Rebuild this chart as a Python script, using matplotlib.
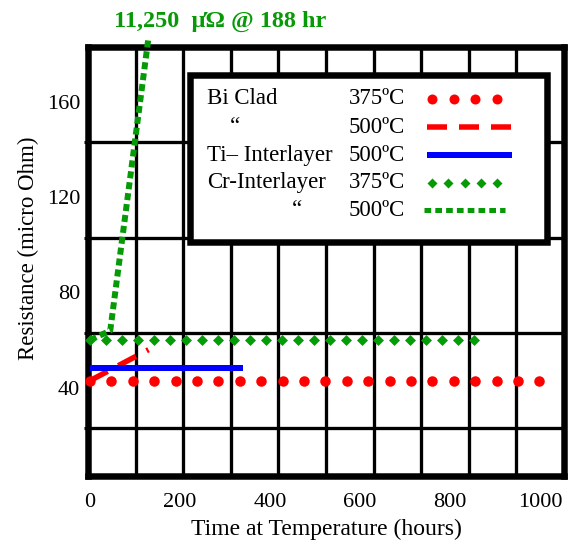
import numpy as np
import matplotlib
matplotlib.use('Agg')
import matplotlib.pyplot as plt
import matplotlib.colors as mcolors
from matplotlib.patheffects import AbstractPathEffect
from matplotlib.path import Path
from matplotlib.transforms import Affine2D, IdentityTransform
from matplotlib.patches import Rectangle

plt.rcParams['font.family'] = ['Liberation Serif', 'DejaVu Serif']
plt.rcParams['lines.scale_dashes'] = False

# ---------------- data ----------------
bi375_t = [0, 1000]
bi375_r = [40, 40]
bi500_t = [0, 130]
bi500_r = [40, 53]
ti500_t = [0, 340]
ti500_r = [45.5, 45.5]
cr375_t = [0, 855]
cr375_r = [57, 57]
cr500_t = [0, 45, 130]
cr500_r = [57, 61, 184]

x_ticks = [0, 200, 400, 600, 800, 1000]
y_ticks = [40, 80, 120, 160]
legend_names = ['Bi Clad', '\u201c', 'Ti\u2013 Interlayer', 'Cr-Interlayer', '\u201c']
legend_temps = ['375\u00baC', '500\u00baC', '500\u00baC', '375\u00baC', '500\u00baC']
note_text = '11,250  \u00b5\u038f @ 188 hr'

RED = '#ff0000'
BLUE = '#0000ff'
GREEN = '#069a06'


class MarkersAlong(AbstractPathEffect):
    """Draw evenly spaced markers along a path (a line style)."""
    def __init__(self, marker, spacing, size, color):
        super().__init__()
        self.marker = marker
        self.spacing = spacing
        self.size = size
        self.rgb = mcolors.to_rgb(color)

    def draw_path(self, renderer, gc, tpath, affine, rgbFace=None):
        v = affine.transform(tpath.vertices)
        seg = np.diff(v, axis=0)
        cum = np.concatenate([[0], np.cumsum(np.hypot(seg[:, 0], seg[:, 1]))])
        step = renderer.points_to_pixels(self.spacing)
        s = np.arange(0, cum[-1] + step * 0.3, step)
        s = np.clip(s, 0, cum[-1])
        x = np.interp(s, cum, v[:, 0])
        y = np.interp(s, cum, v[:, 1])
        half = renderer.points_to_pixels(self.size) / 2
        if self.marker == 'o':
            mpath = Path.unit_circle()
        else:
            mpath = Path([[0, -1], [1, 0], [0, 1], [-1, 0], [0, -1]], closed=True)
        gc0 = renderer.new_gc()
        gc0.copy_properties(gc)
        gc0.set_linewidth(0)
        gc0.set_foreground(self.rgb)
        renderer.draw_markers(gc0, mpath, Affine2D().scale(half),
                              Path(np.column_stack([x, y])), IdentityTransform(),
                              self.rgb)
        gc0.restore()


px = 72 / 100.0  # points per pixel

styles = [
    dict(color=RED, lw=2, path_effects=[MarkersAlong('o', 21.4 * px, 10.5 * px, RED)]),
    dict(color=RED, lw=5.5 * px, dashes=(20 * px, 12 * px), solid_capstyle='butt', dash_capstyle='butt'),
    dict(color=BLUE, lw=6 * px, solid_capstyle='butt'),
    dict(color=GREEN, lw=2, path_effects=[MarkersAlong('d', 16 * px, 11 * px, GREEN)]),
    dict(color=GREEN, lw=6 * px, dashes=(7 * px, 4 * px), dash_capstyle='butt'),
]
series = [(bi375_t, bi375_r), (bi500_t, bi500_r), (ti500_t, ti500_r),
          (cr375_t, cr375_r), (cr500_t, cr500_r)]

fig = plt.figure(figsize=(5.73, 5.52), dpi=100)
ax = fig.add_axes([88 / 573, 1 - 476 / 552, 476 / 573, 429 / 552])
ax.set_xlim(-4.4, 1053)
ax.set_ylim(0, 180)

for (t, r), st in zip(series, styles):
    ax.plot(t, r, zorder=3, clip_on=False, **st)

# grid
ax.set_xticks(x_ticks)
ax.set_yticks(y_ticks)
ax.set_xticks(np.linspace(-4.4, 1053, 11)[1:-1], minor=True)
ax.set_yticks(np.arange(20, 180, 20), minor=True)
ax.grid(which='minor', color='black', lw=3.3 * px)
ax.tick_params(which='major', length=0, labelsize=16)
ax.tick_params(axis='x', which='major', pad=12)
ax.tick_params(axis='y', which='major', pad=5.5)
ax.tick_params(axis='x', which='minor', length=0)
ax.tick_params(axis='y', which='minor', length=3, width=2.2, direction='out')
for lab in ax.get_yticklabels():
    lab.set_va('top')
for sp in ax.spines.values():
    sp.set_linewidth(6.5 * px)

ax.set_xlabel('Time at Temperature (hours)', fontsize=17, labelpad=5)
ax.set_ylabel('Resistance (micro Ohm)', fontsize=16.5)
ax.yaxis.set_label_coords(-0.103, 0.532)

# note at top
fig.text(220 / 573, 1 - 21 / 552, note_text, color=GREEN, fontsize=17.5,
         fontweight='bold', ha='center', va='center')

# legend box (custom layout)
box = Rectangle((0.214, 0.545), 0.964 - 0.214, 0.935 - 0.545, transform=ax.transAxes,
                facecolor='white', edgecolor='black', lw=6.5 * px, zorder=4, clip_on=False)
ax.add_patch(box)
row_y = [0.879, 0.8135, 0.748, 0.683, 0.620]
name_x = [0.25, 0.309, 0.25, 0.25, 0.439]
name_ha = ['left', 'center', 'left', 'left', 'center']
for i in range(5):
    yy = row_y[i]
    ax.text(name_x[i], yy, legend_names[i], transform=ax.transAxes, fontsize=16.5,
            ha=name_ha[i], va='center', zorder=5)
    ax.text(0.666, yy, legend_temps[i], transform=ax.transAxes, fontsize=16.5,
            ha='right', va='center', zorder=5)
sample_x = [[0.723, 0.87], [0.712, 0.895], [0.712, 0.891], [0.723, 0.87], [0.705, 0.875]]
legend_styles = [
    dict(color=RED, lw=2, path_effects=[MarkersAlong('o', 21.5 * px, 10 * px, RED)]),
    dict(color=RED, lw=5.5 * px, dashes=(20 * px, 12 * px), dash_capstyle='butt'),
    dict(color=BLUE, lw=6 * px, solid_capstyle='butt'),
    dict(color=GREEN, lw=2, path_effects=[MarkersAlong('d', 16.2 * px, 10 * px, GREEN)]),
    dict(color=GREEN, lw=5 * px, dashes=(6.7 * px, 4.1 * px), dash_capstyle='butt'),
]
for i in range(5):
    ax.plot(sample_x[i], [row_y[i], row_y[i]], transform=ax.transAxes, zorder=5,
            clip_on=False, **legend_styles[i])

fig.savefig('out.png', dpi=100)
